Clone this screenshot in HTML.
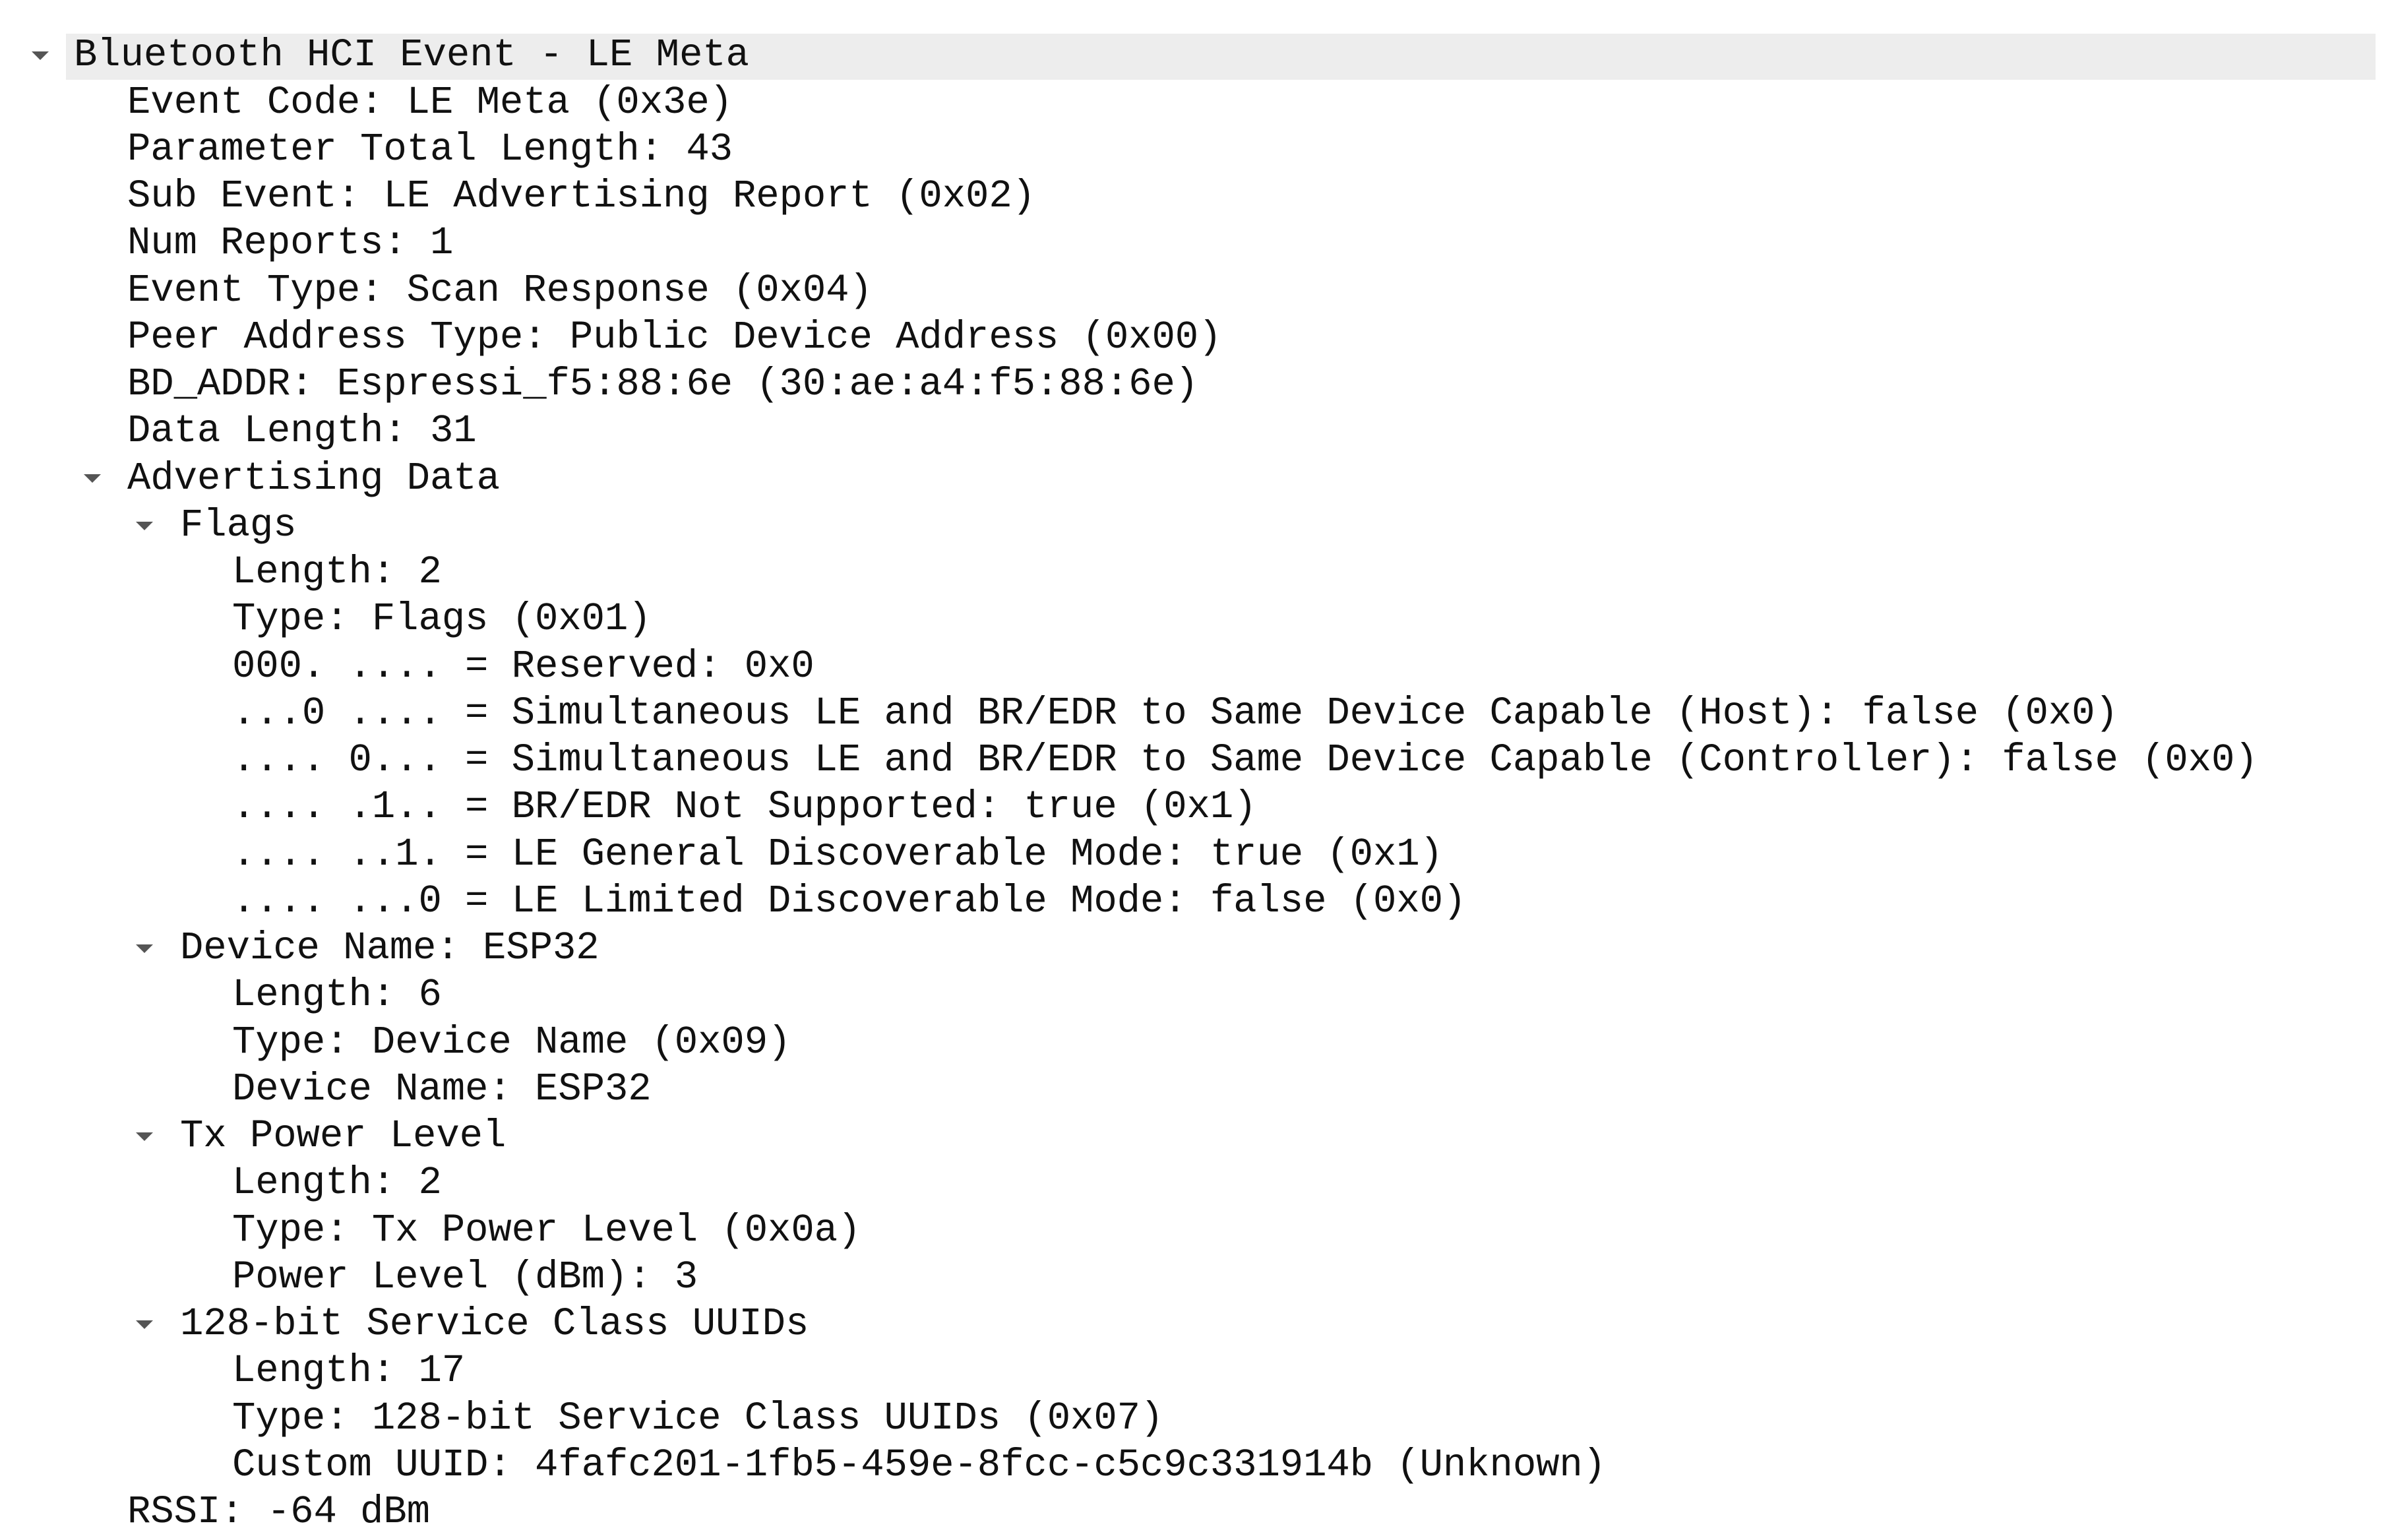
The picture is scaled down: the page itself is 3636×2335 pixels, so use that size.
<!DOCTYPE html>
<html><head><meta charset="utf-8"><style>
html,body{margin:0;padding:0;background:#fff;}
body{width:3636px;height:2335px;position:relative;overflow:hidden;font-family:"Liberation Mono","DejaVu Sans Mono",monospace;font-size:59px;color:#111;}
.band{position:absolute;left:100px;top:51px;width:3502px;height:70px;background:#ededed;}
.r{position:absolute;height:71px;line-height:71px;white-space:pre;letter-spacing:-0.1px;}
.t{position:absolute;width:0;height:0;border-left:13px solid transparent;border-right:13px solid transparent;border-top:13px solid #555;}
</style></head><body>
<div class="band"></div>
<div class="t" style="left:48px;top:78px"></div>
<div class="r" style="left:112px;top:48px">Bluetooth HCI Event - LE Meta</div>
<div class="r" style="left:193px;top:120px">Event Code: LE Meta (0x3e)</div>
<div class="r" style="left:193px;top:191px">Parameter Total Length: 43</div>
<div class="r" style="left:193px;top:262px">Sub Event: LE Advertising Report (0x02)</div>
<div class="r" style="left:193px;top:333px">Num Reports: 1</div>
<div class="r" style="left:193px;top:405px">Event Type: Scan Response (0x04)</div>
<div class="r" style="left:193px;top:476px">Peer Address Type: Public Device Address (0x00)</div>
<div class="r" style="left:193px;top:547px">BD_ADDR: Espressi_f5:88:6e (30:ae:a4:f5:88:6e)</div>
<div class="r" style="left:193px;top:618px">Data Length: 31</div>
<div class="t" style="left:127px;top:719px"></div>
<div class="r" style="left:193px;top:690px">Advertising Data</div>
<div class="t" style="left:206px;top:791px"></div>
<div class="r" style="left:273px;top:761px">Flags</div>
<div class="r" style="left:352px;top:832px">Length: 2</div>
<div class="r" style="left:352px;top:903px">Type: Flags (0x01)</div>
<div class="r" style="left:352px;top:975px">000. .... = Reserved: 0x0</div>
<div class="r" style="left:352px;top:1046px">...0 .... = Simultaneous LE and BR/EDR to Same Device Capable (Host): false (0x0)</div>
<div class="r" style="left:352px;top:1117px">.... 0... = Simultaneous LE and BR/EDR to Same Device Capable (Controller): false (0x0)</div>
<div class="r" style="left:352px;top:1188px">.... .1.. = BR/EDR Not Supported: true (0x1)</div>
<div class="r" style="left:352px;top:1260px">.... ..1. = LE General Discoverable Mode: true (0x1)</div>
<div class="r" style="left:352px;top:1331px">.... ...0 = LE Limited Discoverable Mode: false (0x0)</div>
<div class="t" style="left:206px;top:1432px"></div>
<div class="r" style="left:273px;top:1402px">Device Name: ESP32</div>
<div class="r" style="left:352px;top:1473px">Length: 6</div>
<div class="r" style="left:352px;top:1545px">Type: Device Name (0x09)</div>
<div class="r" style="left:352px;top:1616px">Device Name: ESP32</div>
<div class="t" style="left:206px;top:1717px"></div>
<div class="r" style="left:273px;top:1687px">Tx Power Level</div>
<div class="r" style="left:352px;top:1758px">Length: 2</div>
<div class="r" style="left:352px;top:1830px">Type: Tx Power Level (0x0a)</div>
<div class="r" style="left:352px;top:1901px">Power Level (dBm): 3</div>
<div class="t" style="left:206px;top:2002px"></div>
<div class="r" style="left:273px;top:1972px">128-bit Service Class UUIDs</div>
<div class="r" style="left:352px;top:2043px">Length: 17</div>
<div class="r" style="left:352px;top:2115px">Type: 128-bit Service Class UUIDs (0x07)</div>
<div class="r" style="left:352px;top:2186px">Custom UUID: 4fafc201-1fb5-459e-8fcc-c5c9c331914b (Unknown)</div>
<div class="r" style="left:193px;top:2257px">RSSI: -64 dBm</div>
</body></html>
